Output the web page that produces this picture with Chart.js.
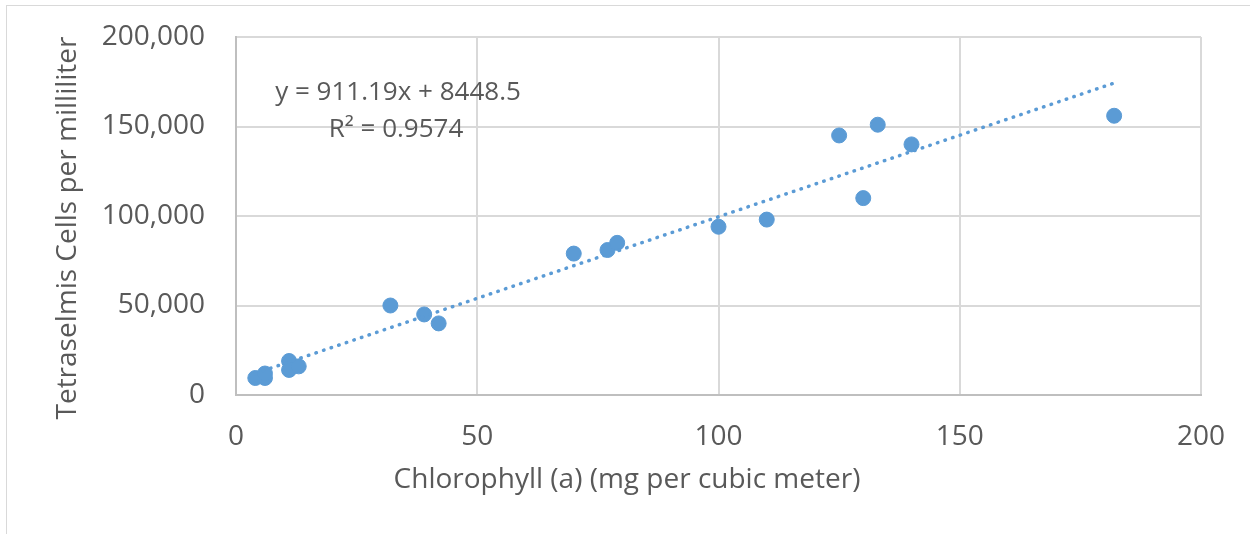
<!DOCTYPE html>
<html>
<head>
<meta charset="utf-8">
<script src="https://cdn.jsdelivr.net/npm/chart.js@4.4.0/dist/chart.umd.min.js"></script>
<style>
  html, body { margin: 0; padding: 0; background: #fff; }
  #frame { position: absolute; left: 6px; top: 5px; width: 1300px; height: 600px; border: 1px solid #d9d9d9; }
  #wrap { position: absolute; left: 0; top: 0; width: 1250px; height: 534px; }
</style>
</head>
<body>
<div id="frame"></div>
<div id="wrap"><canvas id="chartCells" width="1250" height="534"></canvas></div>
<script>
// chlorophyll (x) vs cell counts (y)
const chlorophyll = [4, 6, 6, 11, 11, 13, 32, 39, 42, 70, 77, 79, 100, 110, 125, 130, 133, 140, 182];
const cells = [9500, 9500, 12000, 19000, 14000, 16000, 50000, 45000, 40000, 79000, 81000, 85000, 94000, 98000, 145000, 110000, 151000, 140000, 156000];
const xTicks = [0, 50, 100, 150, 200];
const yTicks = [0, 50000, 100000, 150000, 200000];
const slope = 911.19;
const intercept = 8448.5;
const trendLabel = ["y = 911.19x + 8448.5", "R\u00b2 = 0.9574"];
const xTitle = "Chlorophyll (a) (mg per cubic meter)";
const yTitle = "Tetraselmis Cells per milliliter";

const points = chlorophyll.map((x, i) => ({ x: x, y: cells[i] }));
const xMin = Math.min(...chlorophyll);
const xMax = Math.max(...chlorophyll);
const trend = [xMin, xMax].map((x) => ({ x: x, y: slope * x + intercept }));

const blue = "#5b9bd5";
const textGrey = "#595959";
const fontName = "'Open Sans', sans-serif";

// equation label + axis titles (Excel centres titles on the whole chart box)
const extraText = {
  id: "extraText",
  afterDraw(chart) {
    const ctx = chart.ctx;
    ctx.save();
    ctx.fillStyle = textGrey;
    ctx.textAlign = "center";
    ctx.textBaseline = "middle";
    ctx.font = "26px " + fontName;
    ctx.fillText(trendLabel[0], 398, 93);
    ctx.fillText(trendLabel[1], 396, 130);
    ctx.font = "28px " + fontName;
    ctx.fillText(xTitle, 627, 480);
    ctx.translate(68, 228);
    ctx.rotate(-Math.PI / 2);
    ctx.fillText(yTitle, 0, 0);
    ctx.restore();
  },
};

const chartCells = document.getElementById("chartCells");
new Chart(chartCells, {
  type: "scatter",
  data: {
    datasets: [
      {
        label: "trend",
        type: "line",
        data: trend,
        borderColor: blue,
        borderWidth: 3.5,
        borderCapStyle: "round",
        borderDash: [0.5, 7.5],
        pointRadius: 0,
        fill: false,
        order: 0,
      },
      {
        label: "cells",
        data: points,
        backgroundColor: blue,
        borderColor: blue,
        pointRadius: 7.5,
        pointHoverRadius: 7.5,
        order: 1,
      },
    ],
  },
  options: {
    responsive: false,
    animation: false,
    layout: { padding: { top: 37, right: 49, left: 0, bottom: 0 } },
    scales: {
      x: {
        type: "linear",
        min: 0,
        max: 200,
        afterBuildTicks: (scale) => {
          scale.ticks = xTicks.map((v) => ({ value: v }));
        },
        afterFit: (scale) => {
          scale.height = 139;
          scale.paddingLeft = 0;
          scale.paddingRight = 0;
        },
        grid: { color: "#d9d9d9", lineWidth: 2, drawTicks: false },
        border: { color: "#bfbfbf", width: 2 },
        ticks: {
          color: textGrey,
          font: { family: fontName, size: 28 },
          padding: 25,
          maxRotation: 0,
        },
      },
      y: {
        type: "linear",
        min: 0,
        max: 200000,
        afterBuildTicks: (scale) => {
          scale.ticks = yTicks.map((v) => ({ value: v }));
        },
        afterFit: (scale) => {
          scale.width = 236;
          scale.paddingTop = 0;
          scale.paddingBottom = 0;
        },
        grid: { color: "#d9d9d9", lineWidth: 2, drawTicks: false },
        border: { color: "#bfbfbf", width: 2 },
        ticks: {
          color: textGrey,
          font: { family: fontName, size: 28 },
          padding: 31,
          callback: (v) => v.toLocaleString("en-US"),
        },
      },
    },
    plugins: {
      legend: { display: false },
      tooltip: { enabled: false },
    },
  },
  plugins: [extraText],
});
</script>
</body>
</html>
